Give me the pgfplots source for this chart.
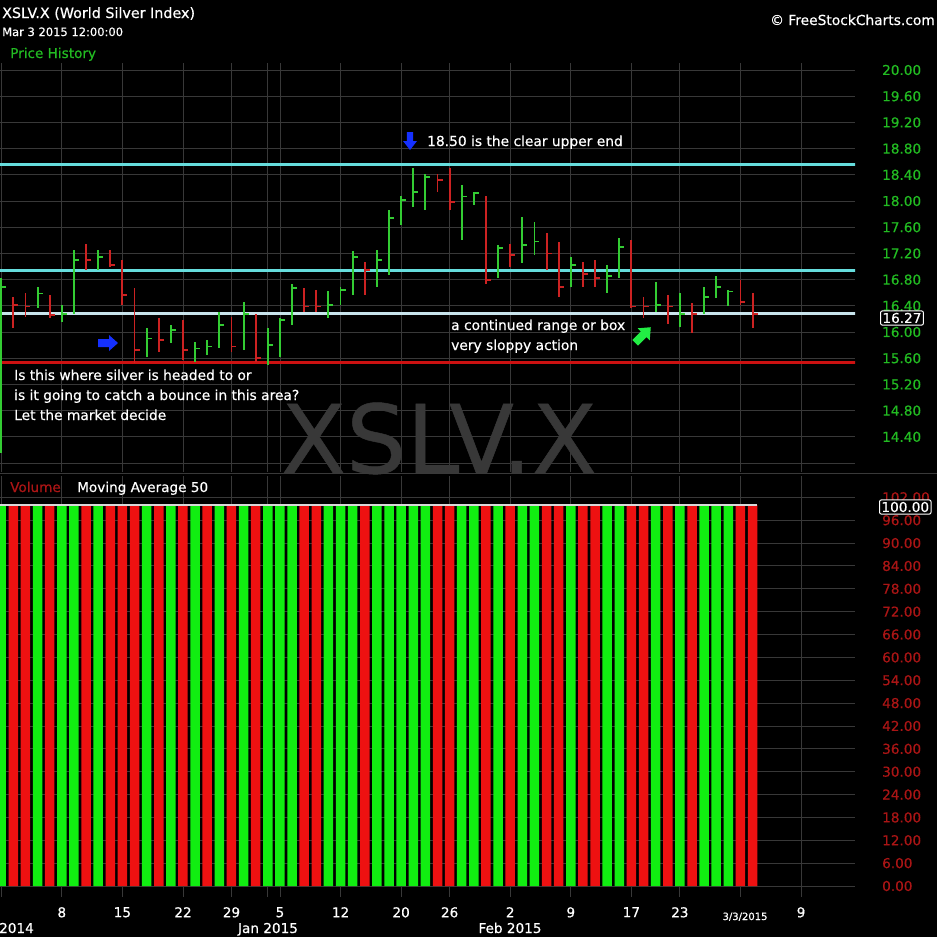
\documentclass[border=0pt]{standalone}
\usepackage{pgfplots}
\pgfplotsset{compat=1.18}
\usepackage{pgfplotstable}
\usepackage{fontspec}
\setmainfont{DejaVu Sans}[FakeBold=0.5]
\usetikzlibrary{shapes.arrows}

\definecolor{pgreen}{HTML}{33CC33}
\definecolor{pred}{HTML}{CC2222}
\definecolor{vgreen}{HTML}{11EE11}
\definecolor{vred}{HTML}{EE1111}
\definecolor{lcyan}{HTML}{66DDDD}
\definecolor{lwhite}{HTML}{C8E4EC}
\definecolor{lred}{HTML}{CC1111}
\definecolor{gridc}{HTML}{383838}
\definecolor{labgreen}{HTML}{22BB22}
\definecolor{labred}{HTML}{AA1515}
\definecolor{wm}{HTML}{383838}
\definecolor{arrblue}{HTML}{1530FF}
\definecolor{arrgreen}{HTML}{22EE44}

\newcommand{\fs}[1]{\fontsize{#1}{#1}\selectfont}

\pgfdeclareplotmark{ctick}{%
  \pgfpathmoveto{\pgfqpoint{0pt}{0pt}}%
  \pgfpathlineto{\pgfqpoint{5pt}{0pt}}%
  \pgfusepathqstroke}

% HLC bars, index = trading day from Dec 1 2014
\pgfplotstableread{
i h l c
0 16.82 14.15 16.69
3 16.69 16.36 16.59
5 16.41 16.16 16.28
6 17.25 16.28 17.10
8 17.25 16.95 17.15
12 16.06 15.62 15.90
14 16.11 15.83 16.03
16 15.85 15.55 15.75
17 15.88 15.65 15.78
18 16.31 15.75 16.11
20 16.46 15.73 16.28
22 16.06 15.50 15.80
23 16.21 15.62 16.18
24 16.74 16.11 16.67
27 16.62 16.21 16.41
28 16.69 16.41 16.64
29 17.23 16.56 17.15
31 17.25 16.69 17.10
32 17.86 16.87 17.74
33 18.07 17.63 18.02
34 18.50 17.91 18.14
35 18.42 17.86 18.37
38 18.24 17.40 18.07
39 18.14 17.94 18.12
41 17.33 16.82 17.28
43 17.76 17.05 17.33
44 17.68 17.18 17.38
47 17.15 16.69 17.02
50 17.02 16.59 16.85
51 17.43 16.82 17.30
54 16.77 16.31 16.41
56 16.59 16.08 16.28
58 16.69 16.28 16.54
59 16.85 16.52 16.69
60 16.64 16.39 16.62
}\upbars

\pgfplotstableread{
i h l c
1 16.54 16.06 16.41
2 16.59 16.23 16.39
4 16.56 16.21 16.26
7 17.35 16.95 17.10
9 17.25 17.00 17.02
10 17.10 16.41 16.56
11 16.67 15.52 15.73
13 16.21 15.70 15.88
15 16.18 15.57 15.73
19 16.23 15.70 15.78
21 16.28 15.55 15.60
25 16.67 16.31 16.39
26 16.64 16.31 16.39
30 17.07 16.56 16.95
36 18.42 18.14 18.32
37 18.50 17.86 17.99
40 18.07 16.74 16.79
42 17.35 17.00 17.18
45 17.51 16.95 17.20
46 17.38 16.54 16.69
48 17.07 16.69 16.89
49 17.10 16.69 16.82
52 17.40 16.36 16.39
53 16.54 16.21 16.39
55 16.56 16.13 16.39
57 16.44 15.98 16.28
61 16.79 16.41 16.46
62 16.59 16.06 16.27
}\downbars

\pgfplotstableread{
i v
0 100
3 100
5 100
6 100
8 100
12 100
14 100
16 100
18 100
20 100
22 100
23 100
24 100
27 100
28 100
29 100
31 100
32 100
33 100
34 100
35 100
38 100
39 100
41 100
43 100
44 100
47 100
50 100
51 100
54 100
56 100
58 100
59 100
60 100
}\volup

\pgfplotstableread{
i v
1 100
2 100
4 100
7 100
9 100
10 100
11 100
13 100
15 100
17 100
19 100
21 100
25 100
26 100
30 100
36 100
37 100
40 100
42 100
45 100
46 100
48 100
49 100
52 100
53 100
55 100
57 100
61 100
62 100
}\voldown

\begin{document}
\begin{tikzpicture}
\useasboundingbox (0pt,0pt) rectangle (937pt,-937pt);
\clip (0pt,0pt) rectangle (937pt,-937pt);
\fill[black] (0pt,0pt) rectangle (937pt,-937pt);

% watermark
\node[anchor=base, text=wm, font=\fs{95}, inner sep=0pt] at (439pt,-473pt) {XSLV.X};

% ---------------- price panel
\begin{axis}[
  at={(0pt,-63pt)}, anchor=north west,
  scale only axis, width=855pt, height=409pt,
  xmin=-0.1, xmax=70.45, ymin=13.863, ymax=20.107,
  axis line style={draw=none},
  major tick length=0pt, minor tick length=0pt,
  xtick={5,10,15,19,23,28,33,37,42,47,52,56,66},
  xticklabels={},
  minor xtick={0,22,61},
  ytick={14.0,14.4,14.8,15.2,15.6,16.0,16.4,16.8,17.2,17.6,18.0,18.4,18.8,19.2,19.6,20.0},
  yticklabels={,14.40,14.80,15.20,15.60,16.00,16.40,16.80,17.20,17.60,18.00,18.40,18.80,19.20,19.60,20.00},
  yticklabel pos=right,
  yticklabel style={anchor=west, inner sep=0pt, xshift=27pt, text=labgreen, font=\fs{13.6}},
  xmajorgrids, xminorgrids, ymajorgrids,
  major grid style={gridc, line width=0.9pt},
  minor grid style={gridc, line width=0.9pt},
]
\addplot[lcyan, line width=3pt] coordinates {(-1,18.55) (75,18.55)};
\addplot[lcyan, line width=3pt] coordinates {(-1,16.94) (75,16.94)};
\addplot[lwhite, line width=3pt] coordinates {(-1,16.29) (75,16.29)};
\addplot[lred, line width=3pt] coordinates {(-1,15.53) (75,15.53)};

\addplot[only marks, mark=ctick, pgreen, line width=1.7pt,
  error bars/.cd, y dir=both, y explicit, error mark=none,
  error bar style={pgreen, line width=1.9pt}]
  table[x=i, y=c, y error plus expr=\thisrow{h}-\thisrow{c},
        y error minus expr=\thisrow{c}-\thisrow{l}] {\upbars};
\addplot[only marks, mark=ctick, pred, line width=1.7pt,
  error bars/.cd, y dir=both, y explicit, error mark=none,
  error bar style={pred, line width=1.9pt}]
  table[x=i, y=c, y error plus expr=\thisrow{h}-\thisrow{c},
        y error minus expr=\thisrow{c}-\thisrow{l}] {\downbars};
\end{axis}

% ---------------- volume panel
\begin{axis}[
  at={(0pt,-476pt)}, anchor=north west,
  scale only axis, width=855pt, height=421pt,
  xmin=-0.1, xmax=70.45, ymin=-2.89, ymax=107.6,
  axis line style={draw=none},
  major tick length=0pt, minor tick length=0pt,
  xtick={5,10,15,19,23,28,33,37,42,47,52,56,66},
  xticklabels={8,15,22,29,5,12,20,26,2,9,17,23,9},
  xticklabel style={text=white, font=\fs{13.6}, inner sep=0pt, yshift=-10pt},
  minor xtick={0,22,61},
  ytick={0,6,12,18,24,30,36,42,48,54,60,66,72,78,84,90,96,102},
  yticklabels={0.00,6.00,12.00,18.00,24.00,30.00,36.00,42.00,48.00,54.00,60.00,66.00,72.00,78.00,84.00,90.00,96.00,102.00},
  yticklabel pos=right,
  yticklabel style={anchor=west, inner sep=0pt, xshift=27pt, text=labred, font=\fs{13.6}},
  xmajorgrids, xminorgrids, ymajorgrids,
  major grid style={gridc, line width=0.9pt},
  minor grid style={gridc, line width=0.9pt},
]
\addplot[ybar, bar width=9.5pt, fill=vgreen, draw=none] table[x=i, y=v] {\volup};
\addplot[ybar, bar width=9.5pt, fill=vred, draw=none] table[x=i, y=v] {\voldown};
\addplot[white!85!black, line width=1.5pt] coordinates {(-0.5,100) (62.4,100)};
\end{axis}

% separator
\draw[gray!45!black, line width=1pt] (0pt,-473pt) -- (937pt,-473pt);

% headers
\node[anchor=base west, inner sep=0pt, text=white, font=\fs{14.3}] at (2pt,-18pt) {XSLV.X (World Silver Index)};
\node[anchor=base west, inner sep=0pt, text=white, font=\fs{11.5}] at (2pt,-36pt) {Mar 3 2015 12:00:00};
\node[anchor=base west, inner sep=0pt, text=labgreen, font=\fs{13.6}] at (10pt,-58pt) {Price History};
\node[anchor=base east, inner sep=0pt, text=white, font=\fs{13.8}] at (935pt,-25pt) {\char"00A9\ FreeStockCharts.com};

% annotations
\node[anchor=base west, inner sep=0pt, text=white, font=\fs{13.8}] at (427pt,-146pt) {18.50 is the clear upper end};
\node[anchor=base west, inner sep=0pt, text=white, font=\fs{13.8}] at (451pt,-330pt) {a continued range or box};
\node[anchor=base west, inner sep=0pt, text=white, font=\fs{13.8}] at (451pt,-350pt) {very sloppy action};
\node[anchor=base west, inner sep=0pt, text=white, font=\fs{13.8}] at (14pt,-380pt) {Is this where silver is headed to or};
\node[anchor=base west, inner sep=0pt, text=white, font=\fs{13.8}] at (14pt,-400pt) {is it going to catch a bounce in this area?};
\node[anchor=base west, inner sep=0pt, text=white, font=\fs{13.8}] at (14pt,-420pt) {Let the market decide};

% arrows
\begin{scope}[shift={(410pt,-141pt)}, rotate=-90]
\fill[arrblue] (-9pt,-3.2pt) -- (0pt,-3.2pt) -- (0pt,-7pt) -- (9pt,0pt) -- (0pt,7pt) -- (0pt,3.2pt) -- (-9pt,3.2pt) -- cycle;
\end{scope}
\begin{scope}[shift={(108pt,-343pt)}]
\fill[arrblue] (-10pt,-4pt) -- (1pt,-4pt) -- (1pt,-8pt) -- (10pt,0pt) -- (1pt,8pt) -- (1pt,4pt) -- (-10pt,4pt) -- cycle;
\end{scope}
\begin{scope}[shift={(643pt,-335pt)}, rotate=45]
\fill[arrgreen] (-11pt,-4pt) -- (1pt,-4pt) -- (1pt,-8.5pt) -- (11pt,0pt) -- (1pt,8.5pt) -- (1pt,4pt) -- (-11pt,4pt) -- cycle;
\end{scope}

% volume header
\node[anchor=base west, inner sep=0pt, text=labred, font=\fs{13.6}] at (10pt,-492pt) {Volume};
\node[anchor=base west, inner sep=0pt, text=white, font=\fs{13.6}] at (77pt,-492pt) {Moving Average 50};

% value boxes
\node[draw=white, rounded corners=2pt, fill=black, text=white, line width=1pt, inner sep=2pt, anchor=west, font=\fs{13.6}] at (880pt,-318pt) {16.27};
\node[draw=white, rounded corners=2pt, fill=black, text=white, line width=1pt, inner sep=2pt, anchor=west, font=\fs{13.6}] at (879pt,-507pt) {100.00};

% month labels
\node[anchor=base east, inner sep=0pt, text=white, font=\fs{13.6}] at (34pt,-933pt) {2014};
\node[anchor=base, inner sep=0pt, text=white, font=\fs{13.6}] at (268pt,-933pt) {Jan 2015};
\node[anchor=base, inner sep=0pt, text=white, font=\fs{13.6}] at (510pt,-933pt) {Feb 2015};
\node[anchor=base, inner sep=0pt, text=white, font=\fs{10}] at (745pt,-920pt) {3/3/2015};
\end{tikzpicture}
\end{document}
